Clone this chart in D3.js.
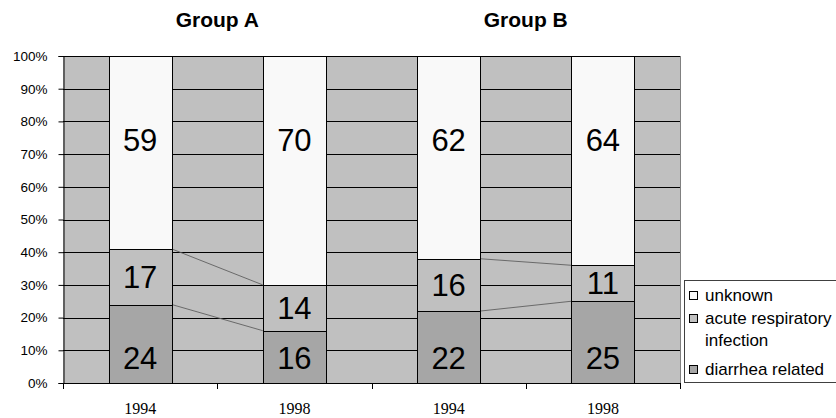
<!DOCTYPE html>
<html>
<head>
<meta charset="utf-8">
<script src="https://cdn.jsdelivr.net/npm/d3@7/dist/d3.min.js"></script>
<style>
  html, body { margin: 0; padding: 0; background: #ffffff; }
  svg { display: block; }
</style>
</head>
<body>
<svg id="chart" width="836" height="418"></svg>
<script>
// Causes of death, share of cases (%) by survey year
const groups = ["Group A", "Group B"];
const years = ["1994", "1998", "1994", "1998"];
const groupIndex = [0, 0, 1, 1];
const diarrhea = [24, 16, 22, 25];
const respiratory = [17, 14, 16, 11];
const unknown = [59, 70, 62, 64];
const yTicks = [0, 10, 20, 30, 40, 50, 60, 70, 80, 90, 100];
const seriesNames = ["diarrhea related", "acute respiratory infection", "unknown"];

const colors = {
  "diarrhea related": "#a6a6a6",
  "acute respiratory infection": "#c0c0c0",
  "unknown": "#f9f9f9"
};

const W = 836, H = 418;
const plot = { left: 63, right: 680, top: 56, bottom: 383 };

const svg = d3.select("#chart");

const keys = years.map((y, i) => groups[groupIndex[i]] + "|" + y);
const rows = keys.map((k, i) => ({
  key: k, year: years[i], group: groupIndex[i],
  "diarrhea related": diarrhea[i],
  "acute respiratory infection": respiratory[i],
  "unknown": unknown[i]
}));

const x = d3.scaleBand().domain(keys).range([plot.left, plot.right])
  .paddingInner(0.59).paddingOuter(0.295);
const y = d3.scaleLinear().domain([0, 100]).range([plot.bottom, plot.top]);

const stacked = d3.stack().keys(seriesNames)(rows);

// plot background
svg.append("rect")
  .attr("x", plot.left).attr("y", plot.top)
  .attr("width", plot.right - plot.left).attr("height", plot.bottom - plot.top)
  .attr("fill", "#c0c0c0");
svg.append("line")
  .attr("x1", plot.right + 0.5).attr("x2", plot.right + 0.5)
  .attr("y1", plot.top).attr("y2", plot.bottom)
  .attr("stroke", "#808080").attr("stroke-width", 1);

// horizontal gridlines
svg.append("g").selectAll("line").data(yTicks.filter(d => d > 0)).join("line")
  .attr("x1", plot.left).attr("x2", plot.right)
  .attr("y1", d => Math.round(y(d)) + 0.5).attr("y2", d => Math.round(y(d)) + 0.5)
  .attr("stroke", "#000").attr("stroke-width", 1);

// series lines between bars of the same group
const seriesLevels = [0, 1].map(li => stacked[li]);
const links = [];
for (let i = 0; i < rows.length - 1; i++) {
  if (rows[i].group !== rows[i + 1].group) continue;
  seriesLevels.forEach(layer => {
    links.push({
      x1: x(keys[i]) + x.bandwidth(), y1: y(layer[i][1]),
      x2: x(keys[i + 1]), y2: y(layer[i + 1][1])
    });
  });
}
svg.append("g").selectAll("line").data(links).join("line")
  .attr("x1", d => d.x1).attr("y1", d => d.y1)
  .attr("x2", d => d.x2).attr("y2", d => d.y2)
  .attr("stroke", "#606060").attr("stroke-width", 0.9);

// stacked bars
svg.append("g").selectAll("g").data(stacked).join("g")
  .attr("fill", d => colors[d.key])
  .selectAll("rect").data(d => d).join("rect")
  .attr("x", d => Math.round(x(d.data.key)) + 0.5)
  .attr("y", d => Math.round(y(d[1])) + 0.5)
  .attr("width", Math.round(x.bandwidth()))
  .attr("height", d => Math.round(y(d[0])) - Math.round(y(d[1])))
  .attr("stroke", "#000").attr("stroke-width", 1);

// value labels
const topLabelAt = 74.3, baseLabelAt = 7.6;
const labelY = (layerIndex, d) => {
  if (layerIndex === 0) return y(baseLabelAt);
  if (layerIndex === 2) return y(topLabelAt);
  return y((d[0] + d[1]) / 2);
};
stacked.forEach((layer, li) => {
  svg.append("g").selectAll("text").data(layer).join("text")
    .attr("x", d => x(d.data.key) + x.bandwidth() / 2)
    .attr("y", d => labelY(li, d))
    .attr("dy", "0.36em")
    .attr("text-anchor", "middle")
    .attr("font-family", "Arial, 'Liberation Sans', sans-serif")
    .attr("font-size", 31)
    .attr("fill", "#000")
    .text(d => d[1] - d[0]);
});

// y axis
const yAxis = d3.axisLeft(y).tickValues(yTicks).tickFormat(d => d + "%")
  .tickSize(5).tickPadding(11);
const gy = svg.append("g").attr("transform", `translate(${plot.left + 0.5},0)`).call(yAxis);
gy.select(".domain").attr("stroke", "#000");
gy.selectAll(".tick line").attr("stroke", "#000");
gy.selectAll(".tick text")
  .attr("font-family", "Arial, 'Liberation Sans', sans-serif")
  .attr("font-size", 13.5).attr("fill", "#000");

// x axis: baseline, boundary ticks and year labels
svg.append("line")
  .attr("x1", plot.left).attr("x2", plot.right)
  .attr("y1", plot.bottom + 0.5).attr("y2", plot.bottom + 0.5)
  .attr("stroke", "#000");
const boundaries = d3.range(keys.length + 1).map(i => x.range()[0] + i * x.step());
svg.append("g").selectAll("line").data(boundaries).join("line")
  .attr("x1", d => Math.round(d) + 0.5).attr("x2", d => Math.round(d) + 0.5)
  .attr("y1", plot.bottom).attr("y2", plot.bottom + 6)
  .attr("stroke", "#000");
svg.append("g").selectAll("text").data(rows).join("text")
  .attr("x", d => x(d.key) + x.bandwidth() / 2)
  .attr("y", 414)
  .attr("text-anchor", "middle")
  .attr("font-family", "'Liberation Serif', 'Times New Roman', serif")
  .attr("font-size", 16)
  .attr("fill", "#000")
  .text(d => d.year);

// group titles
svg.append("g").selectAll("text").data(groups).join("text")
  .attr("x", (g, gi) => d3.mean(rows.filter(r => r.group === gi), r => x(r.key) + x.bandwidth() / 2))
  .attr("y", 27)
  .attr("text-anchor", "middle")
  .attr("font-family", "Arial, 'Liberation Sans', sans-serif")
  .attr("font-weight", "bold")
  .attr("font-size", 21)
  .attr("fill", "#000")
  .text(d => d);

// legend
const legend = svg.append("g");
legend.append("rect")
  .attr("x", 684.5).attr("y", 280.5).attr("width", 160).attr("height", 102)
  .attr("fill", "#ffffff").attr("stroke", "#404040").attr("stroke-width", 1);
const legendItems = [
  { name: "unknown", lines: ["unknown"], base: 301 },
  { name: "acute respiratory infection", lines: ["acute respiratory", "infection"], base: 324 },
  { name: "diarrhea related", lines: ["diarrhea related"], base: 375 }
];
legendItems.forEach(item => {
  legend.append("rect")
    .attr("x", 689.5).attr("y", item.base - 9.5).attr("width", 8).attr("height", 8)
    .attr("fill", colors[item.name]).attr("stroke", "#000").attr("stroke-width", 1);
  const t = legend.append("text")
    .attr("x", 705).attr("y", item.base)
    .attr("font-family", "Arial, 'Liberation Sans', sans-serif")
    .attr("font-size", 17).attr("fill", "#000");
  item.lines.forEach((ln, i) => {
    t.append("tspan").attr("x", 705).attr("dy", i === 0 ? 0 : 22).text(ln);
  });
});
</script>
</body>
</html>
